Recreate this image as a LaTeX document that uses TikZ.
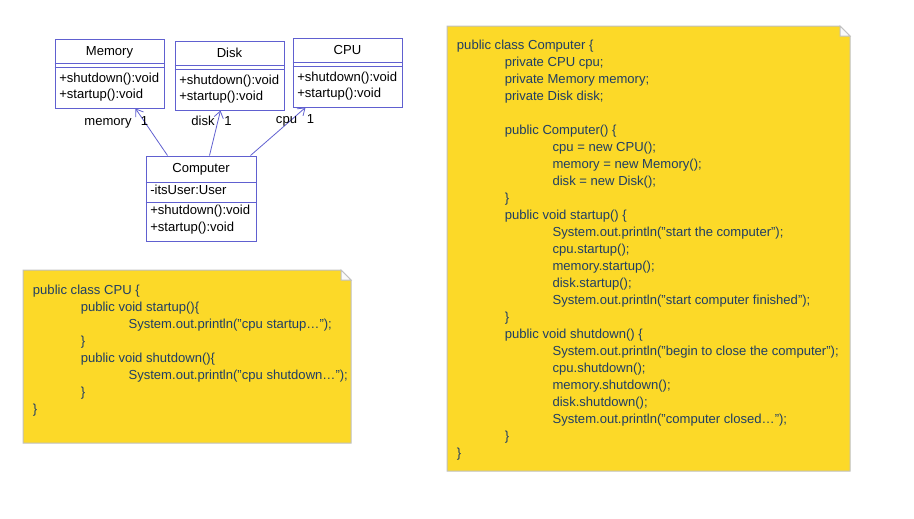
\documentclass[tikz,border=0pt]{standalone}
\usepackage{fontspec}
\setmainfont{Liberation Sans}
\usetikzlibrary{arrows.meta,fit,calc}

\definecolor{umlblue}{RGB}{96,96,208}
\definecolor{noteyellow}{RGB}{252,217,40}
\definecolor{noteedge}{RGB}{192,192,192}
\definecolor{codeblue}{RGB}{32,62,100}

\begin{document}
\begin{tikzpicture}[x=0.75pt, y=-0.75pt,
        font=\fontsize{9.8}{12}\selectfont,
        classbox/.style={draw=umlblue, line width=0.75pt, inner sep=0pt},
        classline/.style={draw=umlblue, line width=0.75pt},
        classname/.style={anchor=base, inner sep=0pt},
        member/.style={anchor=base west, inner sep=0pt},
        rolelabel/.style={anchor=base, inner sep=0pt},
        depend/.style={draw=umlblue, line width=0.6pt, -{Straight Barb[length=5pt, width=7pt]}},
        note/.style={fill=noteyellow, draw=noteedge, line width=0.75pt},
        fold/.style={fill=white!92!noteedge, draw=noteedge, line width=0.75pt},
        code/.style={anchor=base west, inner sep=0pt, text=codeblue}]

        \useasboundingbox (0,0) rectangle (914,518);

        % Class box: id, left, top, name
        \newcommand{\umlclass}[4]{
            \node[classbox, fit={(#2,#3) (#2+109,#3+69)}] (#1) {};
            \draw[classline] ($(#1.north west)+(0,25)$) -- ($(#1.north east)+(0,25)$);
            \draw[classline] ($(#1.north west)+(0,29)$) -- ($(#1.north east)+(0,29)$);
            \node[classname] (#1-name) at ($(#1.north)+(0,17)$) {#4};
            \node[member] (#1-stop) at ($(#1.north west)+(4.5,44)$) {+shutdown():void};
            \node[member] (#1-start) at ($(#1.north west)+(4.5,60)$) {+startup():void};
        }

        \umlclass{memory}{55}{39}{Memory}
        \umlclass{disk}{175}{41}{Disk}
        \umlclass{cpu}{293}{38}{CPU}

        % Computer
        \node[classbox, fit={(146,156) (256,241)}] (computer) {};
        \draw[classline] ($(computer.north west)+(0,27)$) -- ($(computer.north east)+(0,27)$);
        \draw[classline] ($(computer.north west)+(0,47)$) -- ($(computer.north east)+(0,47)$);
        \node[classname] (computer-name) at ($(computer.north)+(0,16.7)$) {Computer};
        \node[member] (computer-user) at ($(computer.north west)+(4.5,39)$) {-itsUser:User};
        \node[member] (computer-stop) at ($(computer.north west)+(4.5,59)$) {+shutdown():void};
        \node[member] (computer-start) at ($(computer.north west)+(4.5,75.7)$) {+startup():void};

        % Associations
        \draw[depend] ($(computer.north west)+(22,0)$) -- ($(memory.south west)+(81,0)$);
        \draw[depend] ($(computer.north west)+(64,0)$) -- ($(disk.south west)+(46,0)$);
        \draw[depend] ($(computer.north west)+(105,0)$) -- ($(cpu.south west)+(13,0)$);

        \node[rolelabel] (memory-role) at (108,125) {memory};
        \node[rolelabel] (memory-mult) at (144.5,125) {1};
        \node[rolelabel] (disk-role) at (203,125.5) {disk};
        \node[rolelabel] (disk-mult) at (228,125.5) {1};
        \node[rolelabel] (cpu-role) at (286.5,123.5) {cpu};
        \node[rolelabel] (cpu-mult) at (310.5,123.5) {1};

        % Notes
        \draw[note] (23,270) -- (341,270) -- (351,280) -- (351,443) -- (23,443) -- cycle;
        \draw[fold] (341,270) -- (341,280) -- (351,280) -- cycle;
        \draw[note] (447,26) -- (840,26) -- (850,36) -- (850,471) -- (447,471) -- cycle;
        \draw[fold] (840,26) -- (840,36) -- (850,36) -- cycle;

        \foreach \row/\lvl/\text in {
            0/0/public class CPU \{,
            1/1/public void startup()\{,
            2/2/System.out.println("cpu startup…");,
            3/1/\},
            4/1/public void shutdown()\{,
            5/2/System.out.println("cpu shutdown…");,
            6/1/\},
            7/0/\}}{
            \node[code] (cpucode\row) at (32.7+47.8*\lvl, 294+17*\row) {\text};
        }

        \foreach \row/\lvl/\text in {
            0/0/public class Computer \{,
            1/1/private CPU cpu;,
            2/1/private Memory memory;,
            3/1/private Disk disk;,
            5/1/public Computer() \{,
            6/2/cpu = new CPU();,
            7/2/memory = new Memory();,
            8/2/disk = new Disk();,
            9/1/\},
            10/1/public void startup() \{,
            11/2/System.out.println("start the computer");,
            12/2/cpu.startup();,
            13/2/memory.startup();,
            14/2/disk.startup();,
            15/2/System.out.println("start computer finished");,
            16/1/\},
            17/1/public void shutdown() \{,
            18/2/System.out.println("begin to close the computer");,
            19/2/cpu.shutdown();,
            20/2/memory.shutdown();,
            21/2/disk.shutdown();,
            22/2/System.out.println("computer closed…");,
            23/1/\},
            24/0/\}}{
            \node[code] (compcode\row) at (456.7+47.8*\lvl, 49+17*\row) {\text};
        }

    \end{tikzpicture}
\end{document}
